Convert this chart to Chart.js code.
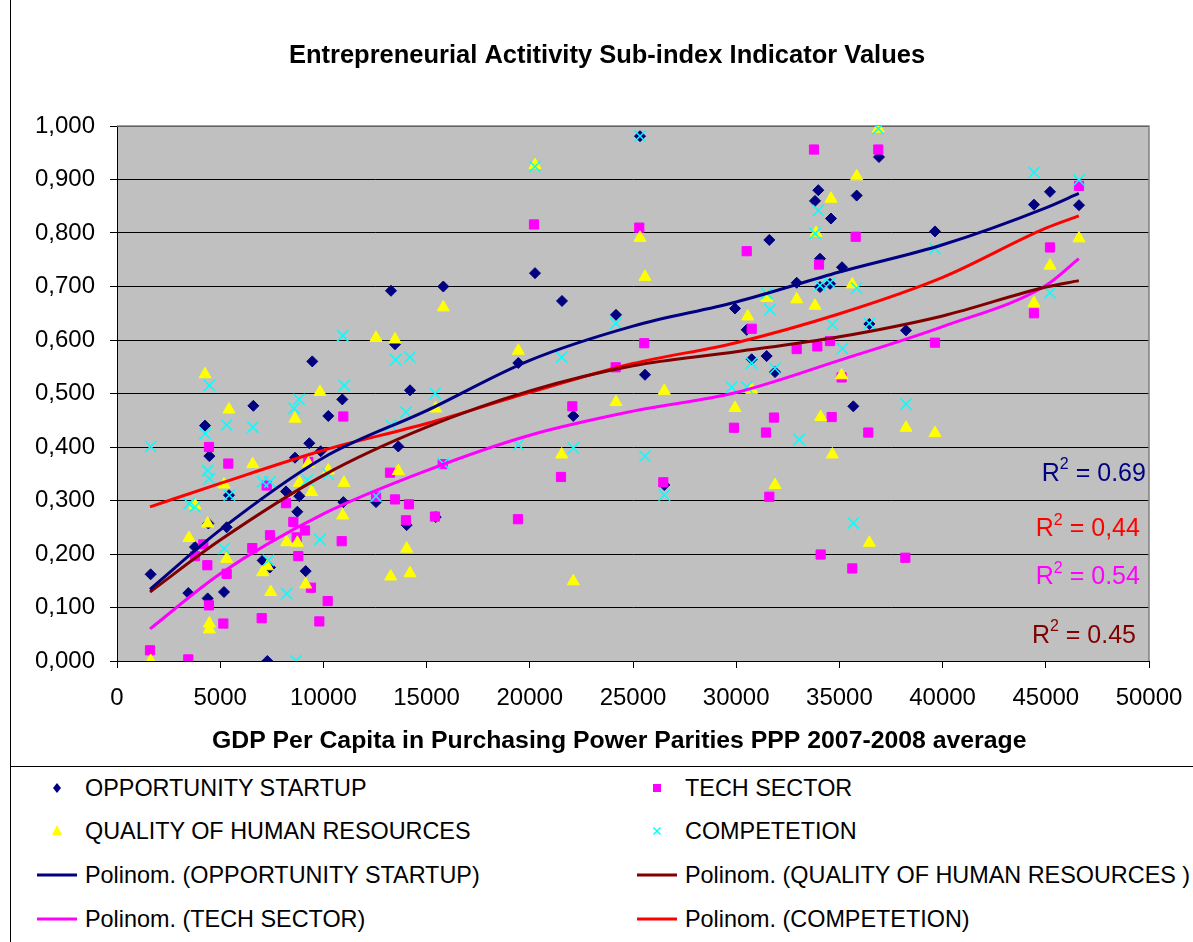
<!DOCTYPE html>
<html>
<head>
<meta charset="utf-8">
<title>Entrepreneurial Activity Sub-index</title>
<script src="https://cdn.jsdelivr.net/npm/chart.js@4.4.1/dist/chart.umd.min.js"></script>
<style>
  html, body { margin: 0; padding: 0; background: #fff; }
  body { width: 1193px; height: 942px; overflow: hidden; position: relative; font-family: "Liberation Sans", Arial, sans-serif; }
  #frameLine { position: absolute; left: 10px; top: 0; width: 1px; height: 942px; background: #000; }
  #chart { position: absolute; left: 10px; top: 0; }
  #legend { position: absolute; left: 10px; top: 766px; width: 1194px; height: 175px; border-top: 1px solid #000; }
  .item { position: absolute; height: 30px; display: flex; align-items: center; font-size: 23.4px; color: #000; white-space: nowrap; }
  .item span { margin-left: 6px; }
</style>
</head>
<body>
<div id="frameLine"></div>
<canvas id="chart" width="1194" height="766"></canvas>
<div id="legend"></div>
<script>
// GDP per capita (PPP) and sub-index value, one pair per country
const opportunityStartup = [
  [1630, 0.162], [3455, 0.127], [3779, 0.213], [4264, 0.440], [4474, 0.383], [4393, 0.117],
  [4426, 0.257], [5184, 0.129], [5313, 0.250], [5426, 0.310], [6606, 0.477], [7057, 0.188],
  [7413, 0.175], [7283, 0.000], [8188, 0.317], [8624, 0.380], [8736, 0.279], [8833, 0.308],
  [9142, 0.168], [9317, 0.407], [9869, 0.392], [9462, 0.560], [10238, 0.458], [10916, 0.489],
  [10965, 0.297], [12548, 0.297], [13275, 0.692], [13469, 0.592], [13629, 0.401], [14196, 0.506],
  [14034, 0.254], [15441, 0.269], [15810, 0.700], [19443, 0.557], [20252, 0.725], [21560, 0.673],
  [22108, 0.458], [24177, 0.647], [25339, 0.981], [25581, 0.535], [26517, 0.329], [29942, 0.659],
  [30508, 0.619], [30750, 0.564], [31605, 0.787], [31476, 0.570], [31880, 0.540], [32931, 0.707],
  [33818, 0.860], [33978, 0.880], [34593, 0.827], [35837, 0.870], [36919, 0.942], [34060, 0.752],
  [35126, 0.736], [34060, 0.699], [34545, 0.705], [36450, 0.630], [38227, 0.618], [35675, 0.476],
  [39632, 0.803], [44428, 0.853], [45203, 0.877], [46609, 0.852]
];
const techSector = [
  [1599, 0.020], [3455, 0.003], [3779, 0.196], [4183, 0.218], [4457, 0.400], [4377, 0.179],
  [4457, 0.104], [5152, 0.070], [5313, 0.163], [5393, 0.369], [6555, 0.211], [7010, 0.080],
  [7253, 0.328], [7413, 0.235], [8188, 0.295], [8543, 0.260], [8705, 0.231], [8785, 0.196],
  [9109, 0.244], [9269, 0.372], [9399, 0.137], [9803, 0.074], [10208, 0.112], [10886, 0.224],
  [10965, 0.457], [12548, 0.307], [13227, 0.352], [13469, 0.302], [14002, 0.263], [14147, 0.293],
  [15407, 0.270], [15780, 0.368], [19428, 0.265], [20203, 0.816], [21512, 0.344], [22060, 0.476],
  [24162, 0.549], [25305, 0.810], [25547, 0.594], [26469, 0.334], [29893, 0.436], [30508, 0.766],
  [30750, 0.621], [31444, 0.427], [31831, 0.455], [31605, 0.307], [32931, 0.583], [33769, 0.956],
  [36885, 0.956], [35789, 0.793], [34011, 0.741], [33930, 0.588], [34545, 0.598], [35109, 0.530],
  [34625, 0.456], [36400, 0.427], [34092, 0.199], [35625, 0.173], [38195, 0.193], [39632, 0.595],
  [44428, 0.650], [45203, 0.773], [46609, 0.888]
];
const qualityHumanResources = [
  [1630, 0.000], [3488, 0.230], [3779, 0.291], [4264, 0.536], [4393, 0.257], [4474, 0.070],
  [4474, 0.059], [5184, 0.330], [5313, 0.191], [5426, 0.470], [6574, 0.368], [7057, 0.166],
  [7283, 0.177], [7446, 0.129], [8220, 0.222], [8624, 0.453], [8736, 0.221], [8833, 0.333],
  [9142, 0.143], [9269, 0.369], [9430, 0.316], [9835, 0.503], [10238, 0.356], [10935, 0.272],
  [10998, 0.333], [12548, 0.604], [13260, 0.158], [13469, 0.601], [13629, 0.355], [14034, 0.210],
  [14196, 0.164], [15441, 0.472], [15810, 0.661], [19443, 0.580], [20252, 0.927], [21545, 0.386],
  [22108, 0.149], [24177, 0.484], [25339, 0.791], [25581, 0.718], [26517, 0.505], [29942, 0.473],
  [30557, 0.644], [30750, 0.507], [31476, 0.679], [31880, 0.329], [32931, 0.676], [33818, 0.664],
  [33866, 0.800], [34092, 0.456], [34593, 0.864], [34657, 0.386], [35109, 0.534], [35625, 0.704],
  [35837, 0.906], [36450, 0.221], [36885, 0.995], [38227, 0.436], [39632, 0.426], [44428, 0.669],
  [45203, 0.739], [46609, 0.790]
];
const competition = [
  [1630, 0.401], [3488, 0.294], [3779, 0.288], [4264, 0.425], [4393, 0.356], [4474, 0.341],
  [4474, 0.515], [5184, 0.210], [5313, 0.441], [5442, 0.310], [6574, 0.437], [7057, 0.335],
  [7413, 0.335], [7332, 0.188], [8220, 0.126], [8576, 0.472], [8672, 0.000], [8818, 0.489],
  [9223, 0.338], [9835, 0.227], [10238, 0.349], [10935, 0.608], [11013, 0.515], [12548, 0.308],
  [13275, 0.441], [13502, 0.563], [14002, 0.465], [14196, 0.568], [15407, 0.500], [15810, 0.369],
  [19443, 0.404], [20252, 0.924], [21545, 0.568], [22108, 0.398], [24177, 0.631], [25339, 0.981],
  [25581, 0.383], [26517, 0.310], [29780, 0.512], [30508, 0.512], [30750, 0.557], [31476, 0.687],
  [31638, 0.657], [31880, 0.547], [33043, 0.414], [33818, 0.799], [33978, 0.842], [34060, 0.702],
  [34545, 0.707], [34657, 0.629], [35142, 0.584], [35675, 0.258], [35837, 0.697], [36450, 0.631],
  [36885, 0.995], [38227, 0.480], [39632, 0.771], [44428, 0.913], [45203, 0.688], [46609, 0.899]
];

// polynomial trendlines
const trendGdp = [1600, 5000, 10000, 15000, 20000, 25000, 30000, 35000, 40000, 45000, 46600];
const trendOpportunity = [0.134, 0.245, 0.380, 0.468, 0.562, 0.626, 0.671, 0.727, 0.778, 0.847, 0.874];
const trendQuality = [0.129, 0.226, 0.347, 0.437, 0.505, 0.552, 0.578, 0.606, 0.645, 0.699, 0.711];
const trendTech = [0.060, 0.163, 0.275, 0.356, 0.422, 0.467, 0.502, 0.562, 0.625, 0.702, 0.752];
const trendCompetition = [0.288, 0.332, 0.394, 0.444, 0.502, 0.556, 0.595, 0.649, 0.717, 0.809, 0.832];
const rSquared = { opportunity: '0.69', competition: '0,44', tech: '0.54', quality: '0.45' };

const FONT = '"Liberation Sans", Arial, sans-serif';

const toPoints = pairs => pairs.map(([x, y]) => ({ x, y }));
const trendPoints = values => trendGdp.map((x, i) => ({ x, y: values[i] }));

function markerSet(label, data, style, color, radius, order) {
  return {
    label, data: toPoints(data), pointStyle: style, pointRadius: radius,
    backgroundColor: color, borderColor: color, pointBorderWidth: style === 'crossRot' ? 1.5 : 1,
    showLine: false, order
  };
}

function trendSet(label, values, color, r2, r2At) {
  return {
    label, data: trendPoints(values), type: 'line', showLine: true,
    borderColor: color, backgroundColor: color, borderWidth: 3, pointRadius: 0,
    cubicInterpolationMode: 'monotone', fill: false, order: 0, r2, r2At
  };
}

const datasets = [
  markerSet('OPPORTUNITY STARTUP', opportunityStartup, 'rectRot', '#000080', 5.5, 4),
  markerSet('TECH SECTOR', techSector, 'rect', '#FF00FF', 6.5, 3),
  markerSet('QUALITY OF HUMAN RESOURCES', qualityHumanResources, 'triangle', '#FFFF00', 7, 2),
  markerSet('COMPETETION', competition, 'crossRot', '#00FFFF', 8, 1),
  trendSet('Polinom. (OPPORTUNITY STARTUP)', trendOpportunity, '#000080', rSquared.opportunity, [49850, 0.350]),
  trendSet('Polinom. (QUALITY OF HUMAN RESOURCES )', trendQuality, '#800000', rSquared.quality, [49370, 0.047]),
  trendSet('Polinom. (TECH SECTOR)', trendTech, '#FF00FF', rSquared.tech, [49560, 0.156]),
  trendSet('Polinom. (COMPETETION)', trendCompetition, '#FF0000', rSquared.competition, [49560, 0.246])
];

const plotBackground = {
  id: 'plotBackground',
  beforeDraw(chart) {
    const { ctx, chartArea: a } = chart;
    ctx.save();
    ctx.fillStyle = '#C0C0C0';
    ctx.fillRect(a.left, a.top, a.right - a.left, a.bottom - a.top);
    ctx.restore();
  },
  beforeDatasetsDraw(chart) {
    const { ctx, chartArea: a } = chart;
    ctx.save();
    ctx.strokeStyle = '#808080';
    ctx.lineWidth = 1.5;
    ctx.beginPath();
    ctx.moveTo(a.left, a.top);
    ctx.lineTo(a.right, a.top);
    ctx.lineTo(a.right, a.bottom);
    ctx.stroke();
    ctx.restore();
  }
};

const r2Labels = {
  id: 'r2Labels',
  afterDatasetsDraw(chart) {
    const { ctx, scales: { x, y } } = chart;
    const size = 25;
    chart.data.datasets.forEach(ds => {
      if (!ds.r2) return;
      const right = x.getPixelForValue(ds.r2At[0]);
      const cy = y.getPixelForValue(ds.r2At[1]);
      const rest = ' = ' + ds.r2;
      ctx.save();
      ctx.textBaseline = 'middle';
      ctx.textAlign = 'left';
      ctx.fillStyle = ds.borderColor;
      ctx.font = size + 'px ' + FONT;
      const wR = ctx.measureText('R').width;
      const wRest = ctx.measureText(rest).width;
      ctx.font = Math.round(size * 0.62) + 'px ' + FONT;
      const w2 = ctx.measureText('2').width;
      const left = right - wR - w2 - wRest;
      ctx.font = size + 'px ' + FONT;
      ctx.fillText('R', left, cy);
      ctx.font = Math.round(size * 0.62) + 'px ' + FONT;
      ctx.fillText('2', left + wR, cy - size * 0.36);
      ctx.font = size + 'px ' + FONT;
      ctx.fillText(rest, left + wR + w2, cy);
      ctx.restore();
    });
  }
};

const chart = new Chart(document.getElementById('chart'), {
  type: 'scatter',
  data: { datasets },
  options: {
    responsive: false,
    animation: false,
    layout: { padding: 0 },
    plugins: {
      legend: { display: false },
      tooltip: { enabled: false },
      title: {
        display: true,
        text: 'Entrepreneurial Actitivity Sub-index Indicator Values',
        color: '#000',
        font: { family: FONT, size: 25.5, weight: 'bold', lineHeight: 1.2 },
        padding: { top: 41, bottom: 54.4 }
      }
    },
    scales: {
      x: {
        type: 'linear',
        min: 0,
        max: 50000,
        afterFit: s => { s.height = 105; },
        ticks: {
          stepSize: 5000,
          autoSkip: false,
          maxRotation: 0,
          padding: 16,
          color: '#000',
          font: { family: FONT, size: 24 },
          callback: v => String(v)
        },
        grid: { drawOnChartArea: false, drawTicks: true, tickLength: 7, color: '#000' },
        border: { color: '#000', width: 1 },
        title: {
          display: true,
          // trailing spaces nudge the centred title a little to the left, as in the original
          text: 'GDP Per Capita in Purchasing Power Parities PPP 2007-2008 average    ',
          color: '#000',
          font: { family: FONT, size: 24.8, weight: 'bold' },
          padding: { top: 0, bottom: 10 }
        }
      },
      y: {
        min: 0,
        max: 1,
        afterFit: s => { s.width = 107; },
        ticks: {
          stepSize: 0.1,
          padding: 15,
          color: '#000',
          font: { family: FONT, size: 24 },
          callback: v => v.toFixed(3).replace('.', ',')
        },
        grid: { color: '#000', lineWidth: 1, tickLength: 7 },
        border: { color: '#000', width: 1 }
      },
      // empty right-hand gutter so the title stays centred on the whole frame
      gutter: {
        type: 'linear',
        position: 'right',
        min: 0,
        max: 1,
        afterFit: s => { s.width = 55; },
        ticks: { display: false },
        grid: { display: false, drawTicks: false },
        border: { display: false }
      }
    }
  },
  plugins: [plotBackground, r2Labels]
});

// legend, two columns filled row by row, built from the datasets
function legendSymbol(ds) {
  const c = ds.borderColor;
  if (ds.type === 'line') {
    return `<line x1="2" y1="15" x2="42" y2="15" stroke="${c}" stroke-width="3"/>`;
  }
  switch (ds.pointStyle) {
    case 'rectRot': return `<polygon points="22,10 26,15 22,20 18,15" fill="${c}"/>`;
    case 'rect': return `<rect x="18" y="11" width="8" height="8" fill="${c}"/>`;
    case 'triangle': return `<polygon points="22,9 27,19 17,19" fill="${c}"/>`;
    default: return `<path d="M18.5 11.5 L25.5 18.5 M25.5 11.5 L18.5 18.5" stroke="${c}" stroke-width="1.5"/>`;
  }
}

const legendBox = document.getElementById('legend');
const columnCentres = [47, 647];
const rowCentres = [22, 65, 109, 153];
chart.data.datasets.forEach((ds, i) => {
  const item = document.createElement('div');
  item.className = 'item';
  item.style.left = (columnCentres[i % 2] - 22) + 'px';
  item.style.top = (rowCentres[Math.floor(i / 2)] - 16) + 'px';
  item.innerHTML = `<svg width="44" height="30">${legendSymbol(ds)}</svg><span>${ds.label}</span>`;
  legendBox.appendChild(item);
});
</script>
</body>
</html>
